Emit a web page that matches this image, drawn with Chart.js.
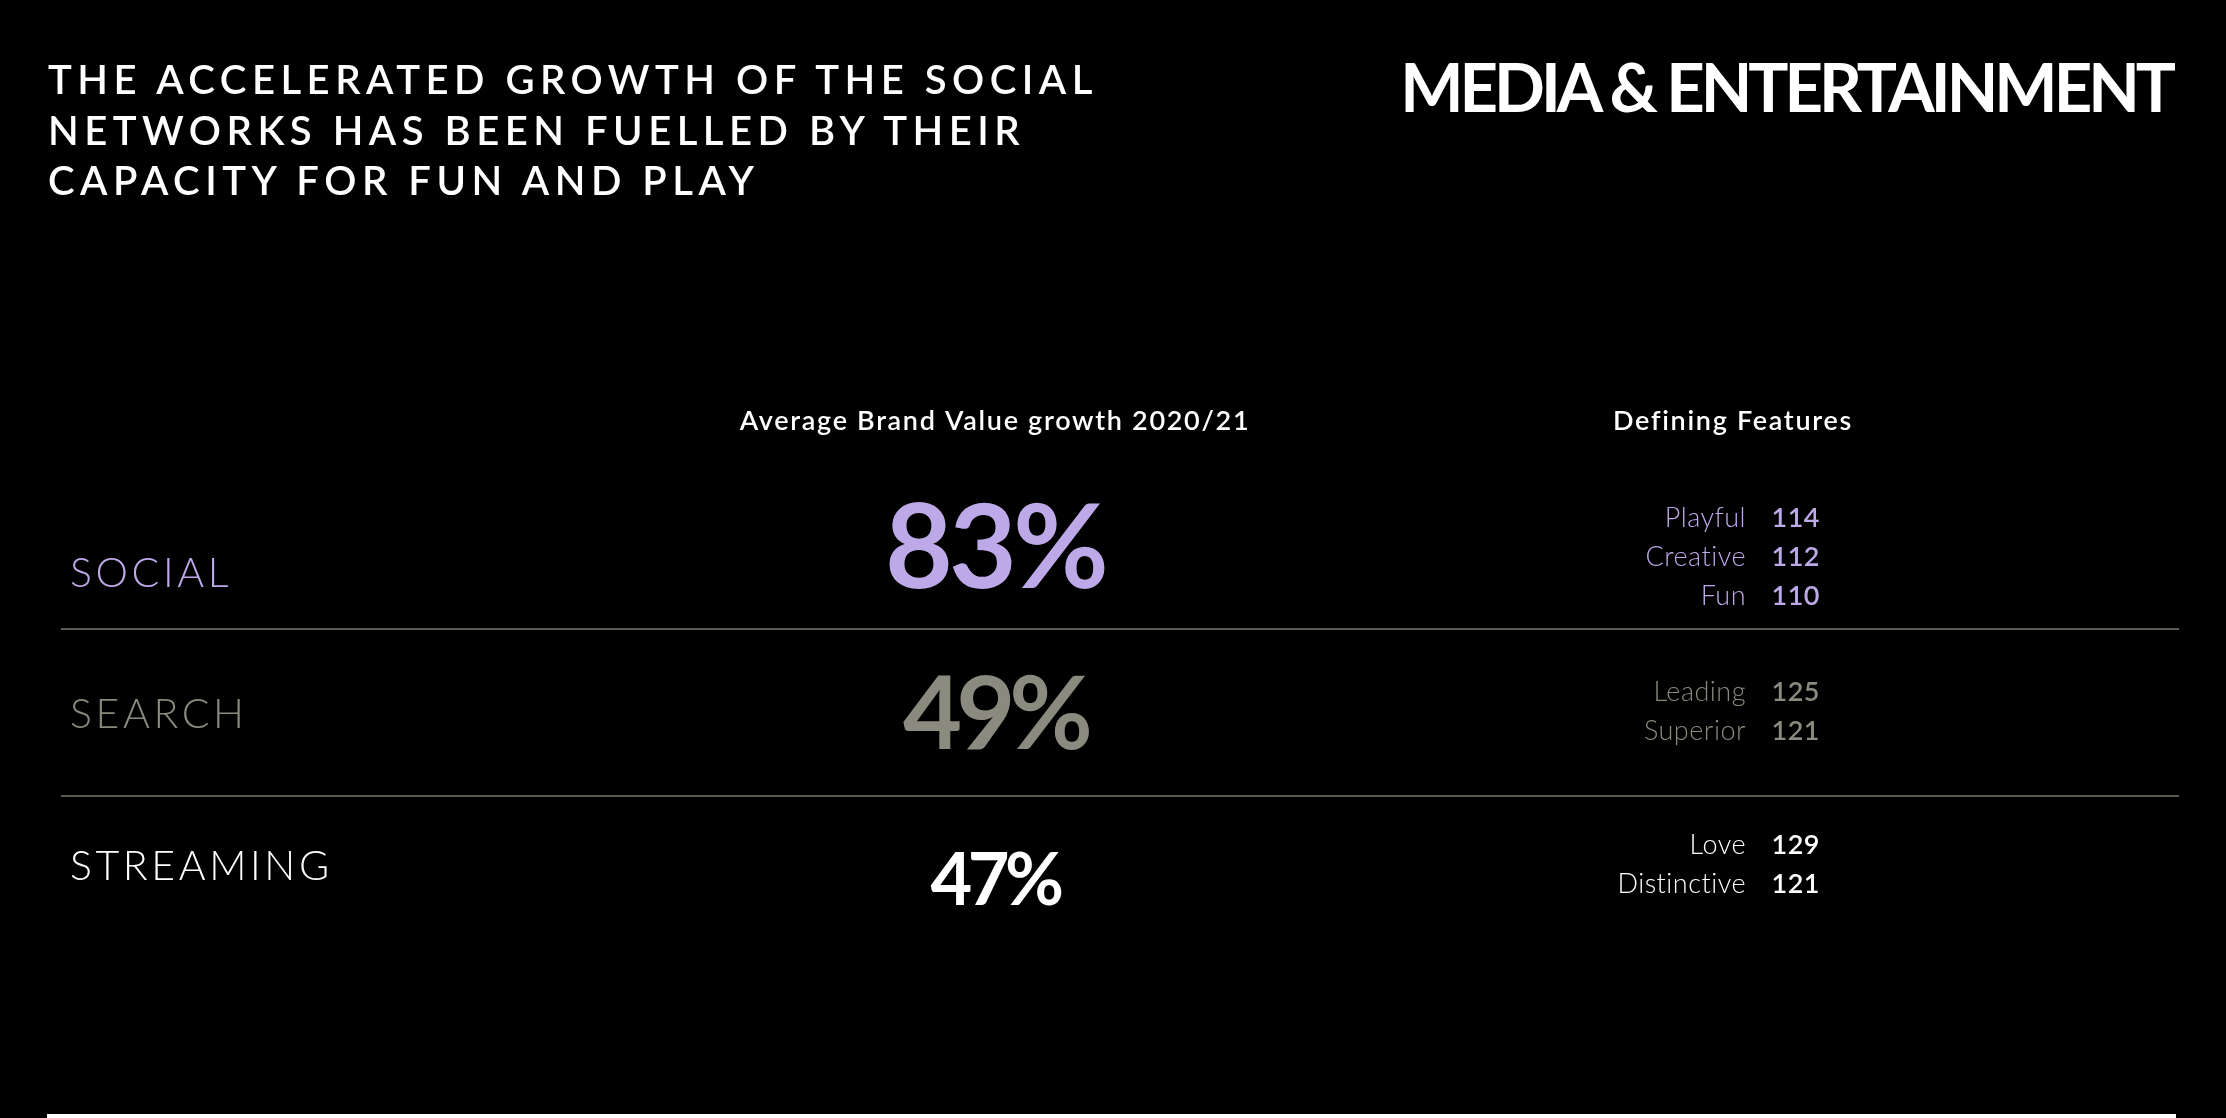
<!DOCTYPE html>
<html>
<head>
<meta charset="utf-8">
<script src="https://cdn.jsdelivr.net/npm/chart.js@4.4.1/dist/chart.umd.min.js"></script>
<style>
html, body { margin: 0; padding: 0; background: #000; }
body { width: 2226px; height: 1118px; position: relative; overflow: hidden; font-family: Lato, 'Open Sans', sans-serif; }
#board { position: absolute; left: 0; top: 0; }
h1 { position: absolute; left: 48px; top: 54px; margin: 0; color: #fff; font-size: 40px; font-weight: 600; line-height: 50.5px; letter-spacing: 5.5px; }
h2 { position: absolute; right: 54px; top: 53px; margin: 0; color: #fff; font-size: 67px; font-weight: 700; line-height: 67px; letter-spacing: -4px; }
#rule { position: absolute; left: 47px; top: 1114px; width: 2129px; height: 4px; background: #fff; }
</style>
</head>
<body>
<canvas id="board" width="2226" height="1118"></canvas>
<h1>THE ACCELERATED GROWTH OF THE SOCIAL<br>NETWORKS HAS BEEN FUELLED BY THEIR<br>CAPACITY FOR FUN AND PLAY</h1>
<h2>MEDIA &amp; ENTERTAINMENT</h2>
<div id="rule"></div>
<script>
// data
var categories = ['SOCIAL', 'SEARCH', 'STREAMING'];
var growth = [83, 49, 47];
var featureNames = [['Playful', 'Creative', 'Fun'], ['Leading', 'Superior'], ['Love', 'Distinctive']];
var featureScores = [[114, 112, 110], [125, 121], [129, 121]];
var colHeaders = ['Average Brand Value growth 2020/21', 'Defining Features'];

// looks
var rowColors = ['#bea9e8', '#8b8a7e', '#ffffff'];
var pctSizes = [117, 102, 72];
var pctSpacing = [-3.9, -6, -4.5];
var labelShift = [41, 15, 0];
var featShift = [-19, -12, -26];

var rowText = {
    id: 'rowText',
    afterDatasetsDraw: function(chart){
        var ctx = chart.ctx;
        var bars = chart.getDatasetMeta(0).data;
        ctx.save();
        ctx.textBaseline = 'alphabetic';

        // column headers
        ctx.fillStyle = '#fff';
        ctx.font = '600 27px Lato';
        ctx.letterSpacing = '1.7px';
        ctx.textAlign = 'center';
        ctx.fillText(colHeaders[0], 995, 430);
        ctx.fillText(colHeaders[1], 1733, 430);

        for(var i = 0; i < categories.length; i++){
            var cy = bars[i].y;
            ctx.fillStyle = rowColors[i];

            // category name
            ctx.textAlign = 'left';
            ctx.font = '300 41px Lato';
            ctx.letterSpacing = '3.6px';
            ctx.fillText(categories[i], 70, cy + labelShift[i]);

            // big growth number
            ctx.textAlign = 'center';
            ctx.font = '700 ' + pctSizes[i] + 'px Lato';
            ctx.letterSpacing = pctSpacing[i] + 'px';
            ctx.fillText(growth[i] + '%', 995, cy + pctSizes[i] * 0.36);

            // defining features
            ctx.letterSpacing = '0.5px';
            for(var k = 0; k < featureNames[i].length; k++){
                var fy = cy + featShift[i] + k * 39;
                ctx.textAlign = 'right';
                ctx.font = '300 27px Lato';
                ctx.fillText(featureNames[i][k], 1746, fy);
                ctx.font = '600 27px Lato';
                ctx.fillText(featureScores[i][k], 1820, fy);
            }
        }
        ctx.restore();
    }
};

var chart = new Chart(document.getElementById('board'), {
    type: 'bar',
    data: {
        labels: categories,
        datasets: [{
            label: 'Average Brand Value growth 2020/21',
            data: growth,
            backgroundColor: 'rgba(0,0,0,0)'
        }]
    },
    options: {
        indexAxis: 'y',
        responsive: false,
        animation: false,
        devicePixelRatio: 1,
        layout: { padding: { left: 61, right: 47, top: 462, bottom: 155 } },
        plugins: {
            legend: { display: false },
            tooltip: { enabled: false }
        },
        scales: {
            x: { display: false, min: 0, max: 100 },
            y: {
                offset: true,
                border: { display: false },
                ticks: { display: false },
                grid: {
                    offset: true,
                    drawTicks: false,
                    lineWidth: 2,
                    color: function(c){
                        return (c.index === 1 || c.index === 2) ? '#5a5a53' : 'rgba(0,0,0,0)';
                    }
                }
            }
        }
    },
    plugins: [rowText]
});
</script>
</body>
</html>
